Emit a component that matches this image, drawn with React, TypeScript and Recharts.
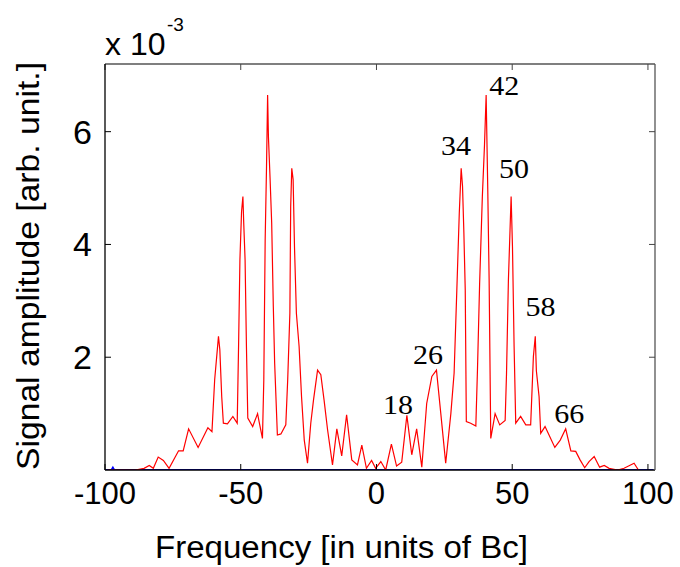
import React from "react";
import { LineChart, Line, XAxis, YAxis, LabelList } from "recharts";

// axis ticks
const freqTicks = [-100, -50, 0, 50, 100];
const ampTicks = [2, 4, 6];

// [frequency (units of Bc), amplitude (x 1e-3)]
const redTrace: [number, number][] = [
  [-99.1, 0], [-88.8, 0], [-85.6, 0.03], [-83.7, 0.08], [-82.2, 0.03],
  [-80.4, 0.23], [-78.5, 0.17], [-76.4, 0.03], [-72.9, 0.34], [-71.2, 0.34],
  [-69.2, 0.73], [-65.7, 0.4], [-62.1, 0.75], [-60.6, 0.68], [-59.6, 1.6],
  [-58.2, 2.37], [-57.7, 2.13], [-57.0, 1.3], [-56.4, 0.83], [-54.9, 0.82],
  [-52.9, 0.95], [-51.3, 0.83], [-50.8, 2.19], [-50.3, 3.73], [-49.7, 4.58],
  [-49.2, 4.85], [-48.9, 4.38], [-48.4, 3.73], [-47.9, 2.19], [-47.4, 0.92],
  [-45.6, 0.77], [-43.8, 1.0], [-43.2, 0.85], [-42.0, 0.56], [-41.5, 1.6],
  [-41.0, 4.08], [-40.5, 5.38], [-40.1, 6.65], [-39.8, 5.91], [-39.2, 5.18],
  [-38.6, 4.38], [-38.0, 2.9], [-37.5, 1.89], [-36.5, 0.62], [-35.2, 0.64],
  [-33.4, 0.8], [-32.7, 1.6], [-31.9, 2.78], [-31.6, 4.67], [-31.2, 5.35],
  [-30.7, 5.15], [-30.2, 3.96], [-29.5, 2.78], [-28.5, 2.19], [-27.6, 1.3],
  [-26.6, 0.53], [-25.4, 0.12], [-24.2, 0.83], [-23.2, 1.24], [-21.7, 1.77],
  [-20.5, 1.69], [-19.3, 1.24], [-18.0, 0.71], [-16.2, 0.09], [-14.6, 0.73],
  [-12.8, 0.25], [-11.0, 0.98], [-9.1, 0.18], [-7.0, 0.09], [-5.4, 0.44],
  [-3.7, 0.03], [-1.8, 0.17], [-0.3, 0.03], [1.6, 0.15], [3.4, 0],
  [5.5, 0.46], [7.4, 0.07], [9.3, 0.14], [11.2, 0.97], [13.0, 0.27],
  [14.8, 0.73], [16.7, 0.05], [18.5, 1.18], [20.4, 1.66], [22.1, 1.77],
  [23.7, 1.0], [25.5, 0.12], [27.4, 1.0], [28.6, 1.72], [29.6, 3.19],
  [30.5, 4.55], [31.2, 5.35], [31.7, 5.03], [32.2, 4.2], [32.7, 3.19],
  [33.1, 0.86], [34.7, 0.83], [36.6, 0.78], [37.2, 1.77], [38.0, 3.31],
  [39.0, 4.85], [39.8, 5.77], [40.4, 6.65], [41.0, 4.97], [41.5, 3.37],
  [42.1, 0.56], [43.7, 1.0], [45.4, 0.8], [47.4, 0.88], [47.9, 1.7],
  [48.6, 3.37], [49.2, 4.26], [49.6, 4.85], [50.1, 3.96], [50.7, 2.19],
  [51.3, 0.83], [53.1, 0.95], [55.0, 0.8], [56.8, 0.8], [57.8, 2.01],
  [58.5, 2.37], [58.9, 1.76], [59.9, 1.3], [60.5, 0.65], [62.1, 0.77],
  [65.7, 0.4], [67.7, 0.53], [69.7, 0.73], [71.6, 0.34], [73.4, 0.33],
  [75.0, 0.18], [76.7, 0.04], [78.3, 0.15], [80.2, 0.24], [82.2, 0.05],
  [83.9, 0.08], [85.7, 0.03], [88.8, 0], [91.2, 0.03], [94.9, 0.12],
  [96.5, 0],
];

// the blue trace barely leaves the baseline
const blueTrace: [number, number][] = [
  [-100, 0], [-97.6, 0], [-97.1, 0.04], [-96.6, 0], [-84, 0], [0, 0], [84, 0], [102, 0],
];

// harmonic number labels and where they sit
const harmonicNames = ["18", "26", "34", "42", "50", "58", "66"];
const harmonicFreq = [7.9, 19.0, 29.3, 47.1, 50.7, 60.4, 71.0];
const harmonicAmp = [1.0, 1.88, 5.59, 6.65, 5.18, 2.73, 0.83];

const redData = redTrace.map(([f, a]) => ({ f, a }));
const blueData = blueTrace.map(([f, a]) => ({ f, a }));
const labelData = harmonicNames.map((name, i) => ({
  f: harmonicFreq[i],
  a: harmonicAmp[i],
  name,
}));

const SANS = "'Liberation Sans', Arial, Helvetica, sans-serif";
const SERIF = "'Liberation Serif', 'Times New Roman', serif";

const XTick = (props: any) => {
  const { x, y, payload } = props;
  return (
    <text x={x} y={y + 40} textAnchor="middle" fontFamily={SANS} fontSize={31} fill="#000">
      {payload.value}
    </text>
  );
};

const YTick = (props: any) => {
  const { x, y, payload } = props;
  return (
    <text x={x - 19} y={y + 12} textAnchor="end" fontFamily={SANS} fontSize={34} fill="#000">
      {payload.value}
    </text>
  );
};

const NoTick = () => <g />;

const HarmonicLabel = (props: any) => {
  const { x, y, value } = props;
  return (
    <text
      x={x}
      y={y}
      textAnchor="middle"
      fontFamily={SERIF}
      fontSize={27}
      fill="#000"
      textLength={30}
      lengthAdjust="spacingAndGlyphs"
    >
      {value}
    </text>
  );
};

const App: React.FC = () => {
  return (
    <div style={{ position: "absolute", left: 0, top: 0, width: 680, height: 567, background: "#fff" }}>
      <LineChart
        width={680}
        height={567}
        margin={{ top: 63, right: 24, bottom: 37, left: 5 }}
      >
        <XAxis
          dataKey="f"
          type="number"
          domain={[-100, 102.6]}
          ticks={freqTicks}
          allowDataOverflow
          height={60}
          tickSize={-6}
          tickMargin={0}
          axisLine={{ stroke: "#000", strokeWidth: 1.3 }}
          tickLine={{ stroke: "#000", strokeWidth: 1 }}
          tick={<XTick />}
          interval={0}
        />
        <XAxis
          xAxisId="top"
          orientation="top"
          dataKey="f"
          type="number"
          domain={[-100, 102.6]}
          ticks={freqTicks}
          allowDataOverflow
          height={1}
          tickSize={-6}
          axisLine={{ stroke: "#555", strokeWidth: 1.3 }}
          tickLine={{ stroke: "#444", strokeWidth: 1 }}
          tick={<NoTick />}
          interval={0}
        />
        <YAxis
          type="number"
          domain={[0, 7.2]}
          ticks={ampTicks}
          allowDataOverflow
          width={100}
          tickSize={-6}
          tickMargin={0}
          axisLine={{ stroke: "#000", strokeWidth: 1.3 }}
          tickLine={{ stroke: "#000", strokeWidth: 1 }}
          tick={<YTick />}
          interval={0}
        />
        <YAxis
          yAxisId="right"
          orientation="right"
          type="number"
          domain={[0, 7.2]}
          ticks={ampTicks}
          allowDataOverflow
          width={1}
          tickSize={-6}
          axisLine={{ stroke: "#555", strokeWidth: 1.3 }}
          tickLine={{ stroke: "#444", strokeWidth: 1 }}
          tick={<NoTick />}
          interval={0}
        />
        <Line
          data={blueData}
          dataKey="a"
          type="linear"
          stroke="#0000ff"
          strokeWidth={2}
          dot={false}
          isAnimationActive={false}
        />
        <Line
          data={redData}
          dataKey="a"
          type="linear"
          stroke="#ff0000"
          strokeWidth={1.2}
          dot={false}
          isAnimationActive={false}
        />
        <Line
          data={labelData}
          dataKey="a"
          stroke="none"
          dot={false}
          activeDot={false}
          isAnimationActive={false}
        >
          <LabelList dataKey="name" content={<HarmonicLabel />} />
        </Line>
      </LineChart>
      <svg
        width={680}
        height={567}
        style={{ position: "absolute", left: 0, top: 0, pointerEvents: "none" }}
      >
        <text x={105} y={55} fontFamily={SANS} fontSize={32} fill="#000">
          x 10
        </text>
        <text x={167} y={31} fontFamily={SANS} fontSize={19} fill="#000">
          -3
        </text>
        <text
          x={341.5}
          y={558}
          textAnchor="middle"
          fontFamily={SANS}
          fontSize={31}
          fill="#000"
          textLength={373}
          lengthAdjust="spacingAndGlyphs"
        >
          Frequency [in units of Bc]
        </text>
        <text
          transform="translate(39,266) rotate(-90)"
          textAnchor="middle"
          fontFamily={SANS}
          fontSize={31.5}
          fill="#000"
          textLength={408}
          lengthAdjust="spacingAndGlyphs"
        >
          Signal amplitude [arb. unit.]
        </text>
      </svg>
    </div>
  );
};

export default App;
